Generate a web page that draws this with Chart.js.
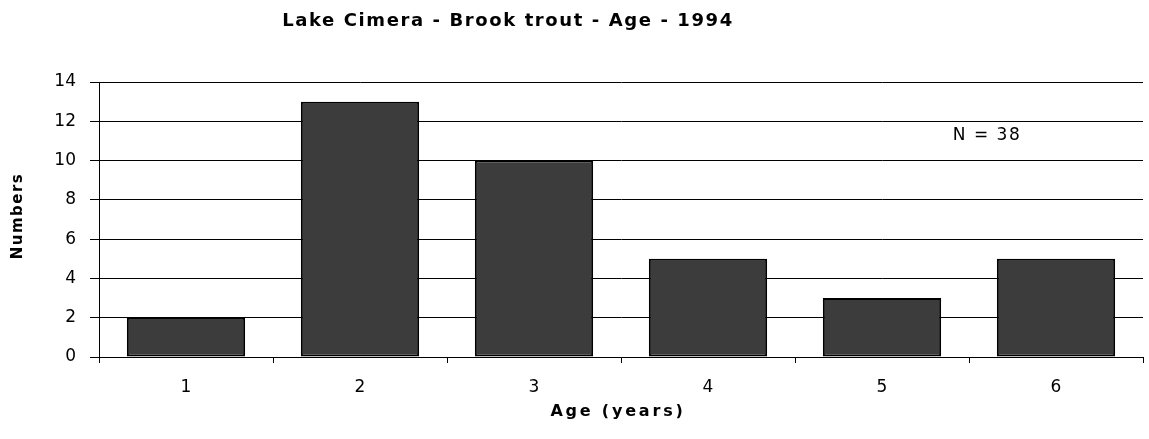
<!DOCTYPE html>
<html lang="en">
<head>
    <meta charset="UTF-8">
    <title>Lake Cimera - Brook trout - Age - 1994</title>
    <script src="https://cdn.jsdelivr.net/npm/chart.js@4.4.1/dist/chart.umd.min.js"></script>
    <style>
        html, body { margin: 0; padding: 0; background: #fff; }
        #wrap { width: 1149px; height: 439px; }
    </style>
</head>
<body>
<div id="wrap"><canvas id="ageChart"></canvas></div>
<script>
    // age classes and fish counts (N = 38)
    const ages = ['1', '2', '3', '4', '5', '6'];
    const counts = [2, 13, 10, 5, 3, 5];
    const yTicks = [0, 2, 4, 6, 8, 10, 12, 14];

    const chartTitle = 'Lake Cimera - Brook trout - Age - 1994';
    const xTitle = 'Age (years)';
    const yTitle = 'Numbers';
    const sampleNote = 'N = 38';

    const FONT = '"DejaVu Sans", sans-serif';

    // titles and the N note, drawn with a bit of letter spacing
    const textPlugin = {
        id: 'textPlugin',
        afterDraw(chart) {
            const ctx = chart.ctx;
            const area = chart.chartArea;
            ctx.save();
            ctx.fillStyle = '#000';
            ctx.textBaseline = 'middle';
            ctx.textAlign = 'center';

            ctx.font = 'bold 18px ' + FONT;
            ctx.letterSpacing = '1.6px';
            ctx.fillText(chartTitle, 508, 21);

            ctx.font = 'bold 16px ' + FONT;
            ctx.letterSpacing = '2.8px';
            ctx.fillText(xTitle, (area.left + area.right) / 2 - 3, 412);

            ctx.font = '17px ' + FONT;
            ctx.letterSpacing = '1.5px';
            ctx.fillText(sampleNote, 987, 136);

            ctx.translate(18, 216);
            ctx.rotate(-Math.PI / 2);
            ctx.font = 'bold 15px ' + FONT;
            ctx.letterSpacing = '1.5px';
            ctx.fillText(yTitle, 0, 0);
            ctx.restore();
        }
    };

    new Chart(document.getElementById('ageChart'), {
        type: 'bar',
        data: {
            labels: ages,
            datasets: [{
                data: counts,
                backgroundColor: '#3c3c3c',
                borderColor: '#000',
                borderWidth: 2,
                borderSkipped: false,
                barPercentage: 0.68,
                categoryPercentage: 1
            }]
        },
        options: {
            responsive: true,
            maintainAspectRatio: false,
            animation: false,
            layout: { padding: { top: 82, right: 6, bottom: 0, left: 0 } },
            plugins: {
                legend: { display: false },
                title: { display: false },
                tooltip: { enabled: false }
            },
            scales: {
                x: {
                    offset: true,
                    grid: {
                        offset: true,
                        drawOnChartArea: false,
                        drawTicks: true,
                        tickLength: 6,
                        color: '#000',
                        lineWidth: 1
                    },
                    border: { color: '#000', width: 1 },
                    ticks: {
                        color: '#000',
                        padding: 14,
                        font: { family: FONT, size: 17 }
                    },
                    afterFit(scale) { scale.height = 82; }
                },
                y: {
                    min: 0,
                    max: 14,
                    afterBuildTicks(scale) {
                        scale.ticks = yTicks.map(v => ({ value: v }));
                    },
                    grid: {
                        color: '#000',
                        lineWidth: 1,
                        tickLength: 9
                    },
                    border: { color: '#000', width: 1 },
                    ticks: {
                        color: '#000',
                        padding: 14,
                        font: { family: FONT, size: 17 }
                    },
                    afterFit(scale) { scale.width = 99; }
                }
            }
        },
        plugins: [textPlugin]
    });
</script>
</body>
</html>
